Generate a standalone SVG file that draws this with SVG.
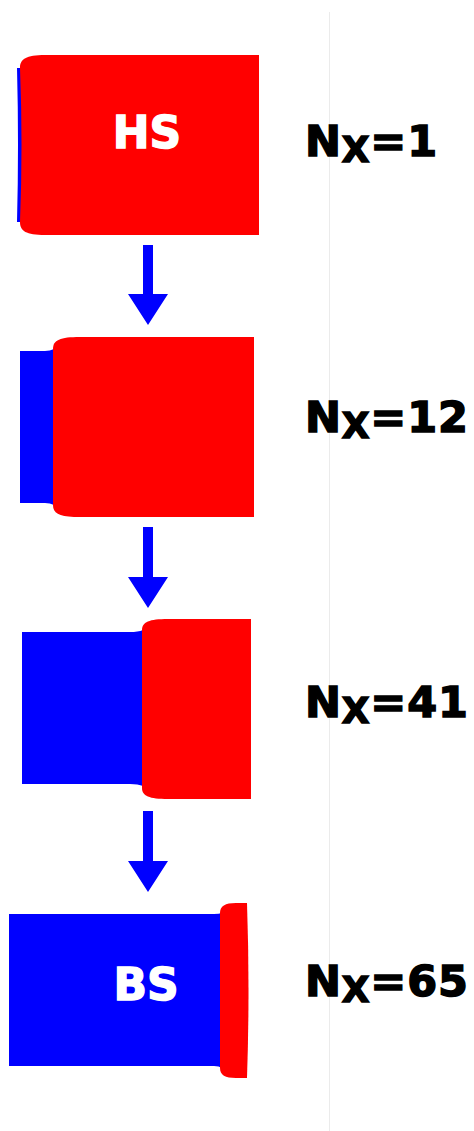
<svg xmlns="http://www.w3.org/2000/svg" width="474" height="1131" viewBox="0 0 474 1131">
<style>
.red{fill:#ff0000}
.blue{fill:#0000ff}
.in{font-family:"DejaVu Sans","Liberation Sans",sans-serif;font-weight:bold;font-size:44px;fill:#ffffff;stroke:#ffffff;stroke-width:1.4;text-anchor:middle}
.lbl{font-family:"DejaVu Sans","Liberation Sans",sans-serif;font-weight:bold;font-size:43px;fill:#000000;stroke:#000000;stroke-width:1.5;letter-spacing:0.8px}
.sub{font-size:36px}
</style>
<rect width="474" height="1131" fill="#ffffff"/>
<line x1="329.5" y1="12" x2="329.5" y2="1131" stroke="#ebebeb" stroke-width="1"/>
<g id="state1">
<path class="blue" d="M17,68 Q19,145 17,222 L21,222 Q24,145 21,68 Z"/>
<path class="red" d="M20,68 C20,59 26,55 45,55 L259,55 L259,235 L45,235 C26,235 20,231 20,222 Q23,145 20,68 Z"/>
<text class="in" x="147" y="148">HS</text>
</g>
<g id="label1"><text class="lbl" x="305" y="156">N<tspan class="sub" dy="6">X</tspan><tspan dy="-6">=1</tspan></text></g>
<g id="state2">
<path class="blue" d="M20,351 L45,351 Q50,351 54,349 L54,505 Q50,503 45,503 L20,503 Z"/>
<path class="red" d="M53,349 C53,340 60,337 80,337 L254,337 L254,517 L80,517 C60,517 53,514 53,505 Z"/>
</g>
<g id="label2"><text class="lbl" x="305" y="432">N<tspan class="sub" dy="6">X</tspan><tspan dy="-6">=12</tspan></text></g>
<g id="state3">
<path class="blue" d="M22,632 L130,632 Q138,632 143,630 L143,786 Q138,784 130,784 L22,784 Z"/>
<path class="red" d="M142,630 C142,622 149,619 168,619 L251,619 L251,799 L168,799 C149,799 142,796 142,788 Z"/>
</g>
<g id="label3"><text class="lbl" x="305" y="717">N<tspan class="sub" dy="6">X</tspan><tspan dy="-6">=41</tspan></text></g>
<g id="state4">
<path class="blue" d="M9,914 L214,914 Q219,914 222,913 L222,1068 Q219,1066 214,1066 L9,1066 Z"/>
<path class="red" d="M220,913 C220,906 225,903 236,903 L247,903 Q250,990 247,1078 L236,1078 C225,1078 220,1075 220,1068 Z"/>
<text class="in" x="146" y="1000">BS</text>
</g>
<g id="label4"><text class="lbl" x="305" y="996">N<tspan class="sub" dy="6">X</tspan><tspan dy="-6">=65</tspan></text></g>
<g id="connectors">
<path class="blue" d="M143,245 L153,245 L153,294 L168,294 L148,325 L128,294 L143,294 Z"/>
<path class="blue" d="M143,527 L153,527 L153,577 L168,577 L148,608 L128,577 L143,577 Z"/>
<path class="blue" d="M143,811 L153,811 L153,861 L168,861 L148,892 L128,861 L143,861 Z"/>
</g>
</svg>
